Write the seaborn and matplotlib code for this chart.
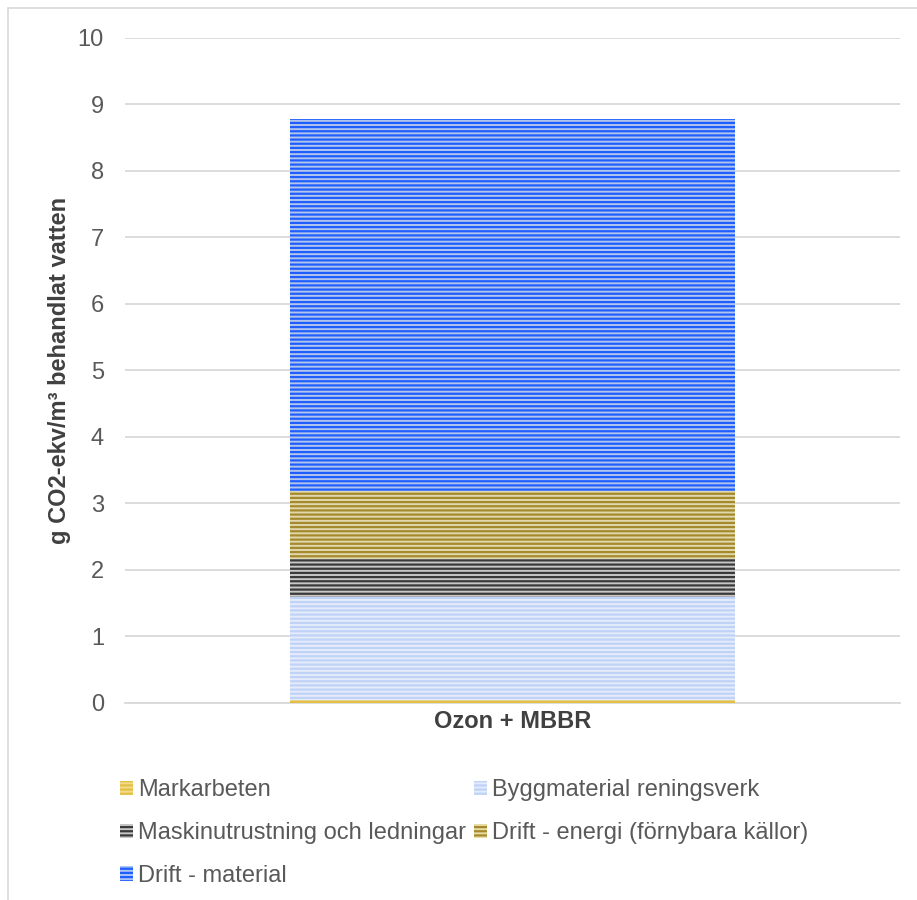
import numpy as np
import pandas as pd
import seaborn as sns
import matplotlib.pyplot as plt
import matplotlib.patches as mpatches
from matplotlib.lines import Line2D

# data
scenario = ['Ozon + MBBR']
components = ['Markarbeten', 'Byggmaterial reningsverk', 'Maskinutrustning och ledningar',
              'Drift - energi (förnybara källor)', 'Drift - material']
values = [0.04, 1.55, 0.575, 1.02, 5.59]

# face colour (light) and stripe colour (dark) per component
face_colors = ['#F2DC8A', '#E3EBFC', '#C8C8C8', '#E9DDA6', '#A9C2F7']
stripe_colors = ['#E3BF45', '#BFD2F8', '#3A3A3A', '#A48A2C', '#1F5EFF']

sns.set_theme(style='white')
plt.rcParams['font.family'] = ['Liberation Sans', 'DejaVu Sans']
plt.rcParams['hatch.linewidth'] = 1.6

FS = 17

fig = plt.figure(figsize=(9.17, 9.0), dpi=100)
ax = fig.add_axes([0.136, 0.219, 0.845, 0.739])

df = pd.DataFrame({'scenario': scenario * len(components),
                   'component': components,
                   'value': values})
df['top'] = df['value'].cumsum()

# stacked bar: draw cumulative totals from the top down so each covers the one above
for i in range(len(components) - 1, -1, -1):
    sns.barplot(data=df.iloc[[i]], x='scenario', y='top', ax=ax, width=0.574,
                color=face_colors[i], edgecolor=stripe_colors[i], linewidth=0,
                hatch='----', zorder=3)

ax.set_ylim(0, 10)
ax.set_xlim(-0.5, 0.5)
ax.set_yticks(range(0, 11))
ax.yaxis.grid(True, color='#D9D9D9', linewidth=1.3, zorder=0)
ax.xaxis.grid(False)
for s in ['top', 'right', 'left']:
    ax.spines[s].set_visible(False)
ax.spines['bottom'].set_color('#D9D9D9')
ax.spines['bottom'].set_linewidth(1.3)
ax.tick_params(axis='y', length=0, labelsize=FS, labelcolor='#595959', pad=15)
ax.tick_params(axis='x', length=0, labelsize=FS, labelcolor='#404040', pad=5)
for lbl in ax.get_xticklabels():
    lbl.set_fontweight('bold')
ax.set_xlabel('')
ax.set_ylabel('g CO2-ekv/m³ behandlat vatten', fontsize=FS, fontweight='bold',
              color='#404040', labelpad=5)

# legend, row-wise order over two columns
order = [0, 2, 4, 1, 3]
handles = [mpatches.Patch(facecolor=face_colors[i], edgecolor=stripe_colors[i],
                          linewidth=0, hatch='----', label=components[i]) for i in order]
fig.legend(handles=handles, ncol=2, loc='upper left', bbox_to_anchor=(0.131, 0.134),
           frameon=False, fontsize=FS, labelcolor='#595959', handlelength=0.55,
           handleheight=0.55, handletextpad=0.2, columnspacing=0.35,
           labelspacing=0.88, borderaxespad=0, borderpad=0)

# light frame around the chart area
fig.add_artist(Line2D([8 / 917, 1], [1 - 8 / 900, 1 - 8 / 900], color='#D9D9D9', lw=1.2))
fig.add_artist(Line2D([8 / 917, 8 / 917], [0, 1 - 8 / 900], color='#D9D9D9', lw=1.2))

fig.savefig('out.png', dpi=100)
